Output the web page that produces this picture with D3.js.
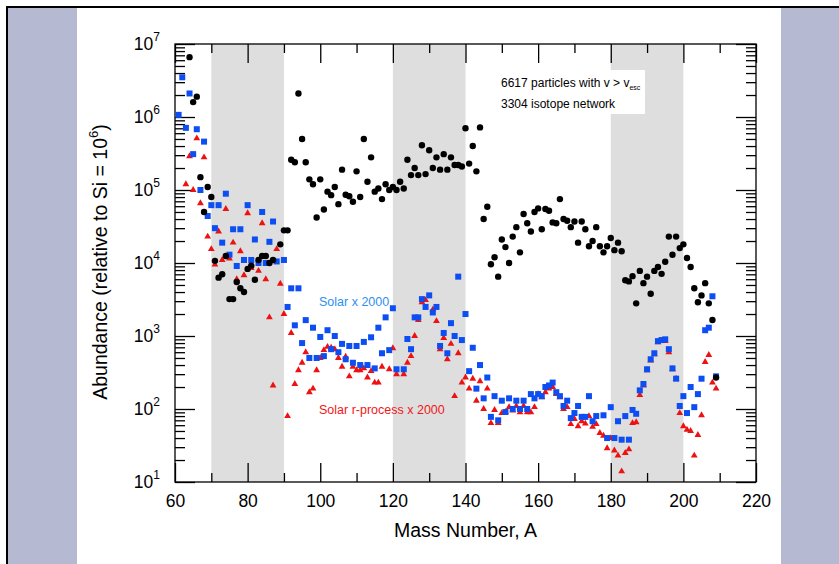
<!DOCTYPE html>
<html>
<head>
<meta charset="utf-8">
<script src="https://cdn.jsdelivr.net/npm/d3@7"></script>
<style>
  body { margin: 0; background: #fff; }
  svg text { font-family: "Liberation Sans", Arial, Helvetica, sans-serif; }
</style>
</head>
<body>
<div class="d3"></div>
<script>
// shaded mass ranges
var bands = [[70, 90], [120, 140], [180, 200]];

var xTicks = [60, 80, 100, 120, 140, 160, 180, 200, 220];
var yTicks = [1e1, 1e2, 1e3, 1e4, 1e5, 1e6, 1e7];

// model: 6617 particles, 3304 isotope network  [A, abundance]
var model = [
  [64, 6.6e6], [65, 1.6e6], [66, 1.9e6], [67, 1.5e5], [68, 5e4], [69, 1.1e5], [70, 8e4],
  [71, 1.07e4], [72, 6.3e3], [73, 7e3], [74, 1.25e4], [75, 3.2e3], [76, 3.2e3], [77, 5.5e3],
  [78, 4.5e3], [79, 4e3], [80, 8.3e3], [81, 9.2e3], [82, 5.9e3], [83, 1.1e4], [84, 1.25e4],
  [85, 1.25e4], [86, 1e4], [87, 1.1e4], [89, 1.8e4], [90, 2.8e4], [91, 2.8e4],
  [92, 2.6e5], [93, 2.4e5], [94, 2.1e6], [95, 5e5], [96, 2.4e5], [97, 1.4e5], [98, 1.2e5],
  [99, 4.2e4], [100, 1.4e5], [101, 5.4e4], [102, 9.5e4], [103, 8.5e4], [104, 1.1e5],
  [105, 6.4e4], [106, 1.9e5], [107, 8.6e4], [108, 8.2e4], [109, 6.9e4], [110, 1.8e5],
  [111, 8e4], [112, 5e5], [113, 1.3e5], [114, 2.8e5], [115, 9.5e4], [116, 1.05e5],
  [117, 7.5e4], [118, 1.2e5], [119, 1e5], [120, 1.1e5], [121, 1e5], [122, 1.3e5],
  [123, 1.05e5], [124, 2.6e5], [125, 1.6e5], [126, 2e5], [127, 1.6e5], [128, 4.1e5],
  [129, 1.65e5], [130, 3.5e5], [131, 2e5], [132, 2.8e5], [133, 1.9e5], [134, 3.1e5],
  [135, 1.9e5], [136, 2.8e5], [137, 2.2e5], [138, 2.2e5], [139, 2.1e5], [140, 7e5],
  [141, 2.3e5], [142, 4e5], [143, 1.8e5], [144, 7.2e5], [145, 4e4], [146, 5.9e4],
  [147, 9.6e3], [148, 1.2e4], [149, 6.5e3], [150, 2.1e4], [151, 1.65e4], [152, 1e4],
  [153, 2.3e4], [154, 3.1e4], [155, 1.4e4], [156, 4.7e4], [157, 3.5e4], [158, 2.7e4],
  [159, 5e4], [160, 5.6e4], [161, 2.9e4], [162, 5.5e4], [163, 5.2e4], [164, 3.6e4],
  [165, 3.5e4], [166, 7.5e4], [167, 4e4], [168, 3.8e4], [169, 3.1e4], [170, 3.7e4],
  [171, 1.9e4], [172, 3.7e4], [173, 2.9e4], [174, 1.7e4], [175, 2e4], [176, 3.1e4],
  [177, 1.7e4], [178, 1.4e4], [179, 1.7e4], [180, 2.2e4], [181, 1.5e4], [182, 1.9e4],
  [183, 1.45e4], [184, 5.8e3], [185, 5.6e3], [186, 6.6e3], [187, 2.8e3], [188, 7.8e3],
  [189, 5.3e3], [190, 6.5e3], [191, 3.8e3], [192, 7.8e3], [193, 8.8e3], [194, 7.1e3],
  [195, 1.04e4], [196, 2.3e4], [197, 1.3e4], [198, 2.3e4], [199, 1.6e4], [200, 1.8e4],
  [201, 1.17e4], [202, 8.8e3], [203, 4.5e3], [204, 2.9e3], [205, 3.6e3], [206, 5.3e3],
  [207, 2.8e3], [208, 1.66e3], [209, 2.7e2]
];

// solar x 2000
var solar = [
  [61, 1.07e6], [62, 3.5e6], [63, 7.1e5], [64, 2.1e6], [65, 3.1e5], [66, 6.8e5], [67, 1e5],
  [68, 4.6e5], [69, 4.4e4], [70, 6.2e4], [71, 3e4], [72, 6.2e4], [73, 1.9e4], [74, 8.9e4],
  [75, 1.3e4], [76, 2.9e4], [77, 9.1e3], [78, 2.9e4], [79, 1.1e4], [80, 6.2e4], [81, 1.1e4],
  [82, 2.1e4], [83, 1e4], [84, 5e4], [85, 1e4], [86, 1.95e4], [87, 3.7e4], [88, 1.05e4],
  [90, 1.1e4], [91, 2.5e3], [92, 4.5e3], [93, 1.4e3], [94, 4.5e3], [95, 8e2], [96, 1.65e3],
  [97, 5e2], [98, 1.3e3], [99, 5e2], [100, 9.7e2], [101, 5.3e2], [102, 1.2e3], [103, 6.6e2],
  [104, 1e3], [105, 6e2], [106, 7.8e2], [107, 4.8e2], [108, 7.3e2], [109, 4.3e2], [110, 7.3e2],
  [111, 4e2], [112, 8.3e2], [113, 4e2], [114, 9.6e2], [115, 3.6e2], [116, 1.3e3], [117, 5.8e2],
  [118, 1.8e3], [119, 6.4e2], [120, 2.4e3], [121, 3.5e2], [123, 3.5e2], [124, 9.1e2],
  [125, 6.6e2], [126, 1.8e3], [127, 1.8e3], [128, 3.2e3], [129, 2.5e3], [130, 3.6e3],
  [131, 2.1e3], [132, 2.5e3], [133, 7.3e2], [134, 1.1e3], [135, 5.8e2], [136, 1.5e3],
  [137, 1e3], [138, 6.5e3], [139, 8.8e2], [140, 2e3], [141, 3.3e2], [142, 6.9e2], [143, 1.9e2],
  [144, 4e2], [145, 1.4e2], [146, 2.7e2], [147, 78], [148, 1.5e2], [149, 70], [150, 1.3e2],
  [151, 91], [152, 1.4e2], [153, 1e2], [154, 1.3e2], [155, 1e2], [156, 1.3e2], [157, 1e2],
  [158, 1.6e2], [159, 1.4e2], [160, 1.6e2], [161, 1.5e2], [162, 2e2], [163, 2.1e2],
  [164, 2.3e2], [165, 1.7e2], [166, 1.5e2], [167, 1.1e2], [168, 1.3e2], [169, 75], [170, 88],
  [171, 1.1e2], [172, 78], [173, 78], [174, 1.5e2], [175, 68], [176, 80], [178, 82], [179, 40],
  [180, 1.06e2], [181, 40], [182, 68], [183, 38], [184, 80], [185, 38], [186, 97], [187, 86],
  [188, 1.8e2], [189, 2.2e2], [190, 3.5e2], [191, 4.8e2], [192, 5.8e2], [193, 8.5e2],
  [194, 8.8e2], [195, 9e2], [196, 6.6e2], [197, 3.6e2], [198, 2.6e2], [199, 1.1e2],
  [200, 1.5e2], [201, 88], [202, 2e2], [203, 1.06e2], [204, 1.6e2], [205, 2.6e2],
  [206, 1.2e3], [207, 1.3e3], [208, 3.5e3], [209, 2.8e2]
];

// solar r-process x 2000
var rproc = [
  [63, 1.2e5], [64, 2.9e5], [65, 1e5], [66, 5.1e5], [67, 6.6e4], [68, 2.8e5], [69, 2.3e4],
  [70, 1.55e4], [71, 9.5e3], [72, 2.7e4], [73, 1.1e4], [74, 5.5e4], [75, 1.15e4], [76, 1.9e4],
  [77, 6e3], [78, 1.45e4], [79, 6.8e3], [80, 4.8e4], [81, 8.5e3], [83, 7.8e3], [84, 3.5e4],
  [85, 6e3], [86, 1.8e3], [87, 2.1e2], [88, 1.55e4], [89, 5.2e3], [90, 2e3], [91, 80],
  [92, 1.1e3], [93, 2.2e2], [94, 3.4e2], [95, 4.3e2], [96, 6e2], [97, 1.7e2], [98, 1.9e2],
  [99, 3.4e2], [100, 5e2], [101, 6.4e2], [102, 7.1e2], [103, 6.9e2], [104, 6.6e2], [105, 5e2],
  [106, 3.8e2], [107, 5.2e2], [108, 2.8e2], [109, 3.8e2], [110, 3.4e2], [111, 3.4e2],
  [112, 3.6e2], [113, 2.7e2], [114, 3.3e2], [115, 2.3e2], [116, 2.3e2], [117, 3.8e2],
  [119, 3.5e2], [120, 6.8e2], [121, 3e2], [123, 3e2], [124, 4.3e2], [125, 5.3e2], [126, 1e3],
  [127, 1.65e3], [128, 2.9e3], [129, 3.1e3], [131, 2.3e3], [132, 1.6e3], [133, 6.6e2],
  [134, 9.4e2], [135, 4.8e2], [136, 7.8e2], [137, 1.5e2], [138, 5.8e2], [139, 2.3e2],
  [140, 2.7e2], [141, 1.9e2], [142, 2.6e2], [143, 1.3e2], [144, 2.4e2], [145, 1e2],
  [146, 1.9e2], [147, 64], [148, 97], [149, 64], [150, 88], [151, 91], [152, 1.06e2],
  [153, 95], [154, 1.1e2], [155, 90], [156, 1.1e2], [157, 90], [158, 90], [159, 1.06e2],
  [160, 1.6e2], [161, 1.45e2], [162, 1.7e2], [163, 1.9e2], [164, 2e2], [165, 1.6e2],
  [166, 1.45e2], [167, 1e2], [168, 1.06e2], [169, 62], [170, 73], [171, 58], [172, 68],
  [173, 63], [174, 80], [175, 57], [176, 62], [177, 47], [178, 43], [179, 29], [180, 40],
  [181, 27], [182, 23], [183, 14], [184, 25], [185, 28], [186, 64], [187, 66], [188, 1.55e2],
  [189, 2.1e2], [190, 3.4e2], [191, 4.6e2], [192, 5.6e2], [193, 8.2e2], [194, 8.5e2],
  [195, 8.5e2], [196, 6e2], [197, 3.5e2], [198, 2.6e2], [199, 88], [200, 58], [201, 52],
  [202, 50], [203, 23], [204, 44], [205, 82], [206, 4.4e2], [207, 5.5e2], [208, 2.3e2],
  [209, 1.9e2]
];

var width = 839, height = 564;
var plot = {left: 175, right: 756, top: 44, bottom: 482};

var svg = d3.select(".d3").append("svg")
    .attr("width", width)
    .attr("height", height);

// page frame: lavender side panels and black rule
svg.append("rect").attr("x", 8).attr("y", 8).attr("width", 69).attr("height", height - 8).attr("fill", "#b5bad2");
svg.append("rect").attr("x", 781).attr("y", 8).attr("width", width - 781).attr("height", height - 8).attr("fill", "#b5bad2");
svg.append("rect").attr("x", 6).attr("y", 6).attr("width", width - 6).attr("height", 2).attr("fill", "#000");
svg.append("rect").attr("x", 6).attr("y", 6).attr("width", 2).attr("height", height - 6).attr("fill", "#000");

var x = d3.scaleLinear().domain([60, 220]).range([plot.left, plot.right]);
var y = d3.scaleLog().domain([10, 1e7]).range([plot.bottom, plot.top]);

svg.selectAll(".band")
    .data(bands)
  .enter().append("rect")
    .attr("class", "band")
    .attr("x", function(d) { return x(d[0]); })
    .attr("y", plot.top)
    .attr("width", function(d) { return x(d[1]) - x(d[0]); })
    .attr("height", plot.bottom - plot.top)
    .attr("fill", "#dedede");

// axes (ticks pointing inward on all four sides)
var xMinor = d3.range(70, 220, 20);
var yMinor = [];
yTicks.slice(0, -1).forEach(function(d) {
  for (var k = 2; k <= 9; k++) yMinor.push(d * k);
});

function styleAxis(g) {
  g.select(".domain").remove();
  g.selectAll(".tick line").attr("stroke", "#000").attr("stroke-width", 1.3);
}

svg.append("g")
    .attr("transform", "translate(0," + plot.bottom + ")")
    .call(d3.axisBottom(x).tickValues(xTicks).tickSize(-19).tickPadding(13).tickFormat(d3.format("d")))
    .call(styleAxis)
    .selectAll("text").attr("font-size", 17.5).attr("fill", "#000");
svg.append("g")
    .attr("transform", "translate(0," + plot.bottom + ")")
    .call(d3.axisBottom(x).tickValues(xMinor).tickSize(-9).tickFormat(""))
    .call(styleAxis);
svg.append("g")
    .attr("transform", "translate(0," + plot.top + ")")
    .call(d3.axisTop(x).tickValues(xTicks).tickSize(-19).tickFormat(""))
    .call(styleAxis);
svg.append("g")
    .attr("transform", "translate(0," + plot.top + ")")
    .call(d3.axisTop(x).tickValues(xMinor).tickSize(-9).tickFormat(""))
    .call(styleAxis);

var yAxisG = svg.append("g")
    .attr("transform", "translate(" + plot.left + ",0)")
    .call(d3.axisLeft(y).tickValues(yTicks).tickSize(-20).tickPadding(15).tickFormat(function() { return ""; }))
    .call(styleAxis);
yAxisG.selectAll(".tick text")
    .attr("font-size", 17.5).attr("fill", "#000")
    .each(function(d) {
      var t = d3.select(this);
      t.append("tspan").text("10");
      t.append("tspan").attr("font-size", 12).attr("dy", "-0.75em").text(Math.round(Math.log10(d)));
    });
svg.append("g")
    .attr("transform", "translate(" + plot.left + ",0)")
    .call(d3.axisLeft(y).tickValues(yMinor).tickSize(-10).tickFormat(""))
    .call(styleAxis);
svg.append("g")
    .attr("transform", "translate(" + plot.right + ",0)")
    .call(d3.axisRight(y).tickValues(yTicks).tickSize(-20).tickFormat(""))
    .call(styleAxis);
svg.append("g")
    .attr("transform", "translate(" + plot.right + ",0)")
    .call(d3.axisRight(y).tickValues(yMinor).tickSize(-10).tickFormat(""))
    .call(styleAxis);

svg.append("rect")
    .attr("x", plot.left).attr("y", plot.top)
    .attr("width", plot.right - plot.left).attr("height", plot.bottom - plot.top)
    .attr("fill", "none").attr("stroke", "#000").attr("stroke-width", 1.3);

// data
svg.append("g").selectAll("path")
    .data(rproc)
  .enter().append("path")
    .attr("d", d3.symbol().type(d3.symbolTriangle).size(20))
    .attr("transform", function(d) { return "translate(" + x(d[0]) + "," + y(d[1]) + ")"; })
    .attr("fill", "#ee1111");

svg.append("g").selectAll("rect")
    .data(solar)
  .enter().append("rect")
    .attr("x", function(d) { return x(d[0]) - 3; })
    .attr("y", function(d) { return y(d[1]) - 3; })
    .attr("width", 6).attr("height", 6)
    .attr("fill", "#0d4ef2");

svg.append("g").selectAll("circle")
    .data(model)
  .enter().append("circle")
    .attr("cx", function(d) { return x(d[0]); })
    .attr("cy", function(d) { return y(d[1]); })
    .attr("r", 3.2)
    .attr("fill", "#000");

// labels (opaque background behind the run note)
svg.append("rect").attr("x", 497).attr("y", 70).attr("width", 148).attr("height", 44).attr("fill", "#fff");
var note = svg.append("g").attr("font-size", 12).attr("fill", "#000");
var t1 = note.append("text").attr("x", 501).attr("y", 87);
t1.append("tspan").text("6617 particles with v > v");
t1.append("tspan").attr("font-size", 7).attr("dy", 3).text("esc");
note.append("text").attr("x", 501).attr("y", 108).text("3304 isotope network");

svg.append("text").attr("x", 319).attr("y", 306).attr("font-size", 12.5)
    .attr("fill", "#2f8ff0").text("Solar x 2000");
svg.append("text").attr("x", 319).attr("y", 414).attr("font-size", 12.5)
    .attr("fill", "#f01818").text("Solar r-process x 2000");

svg.append("text")
    .attr("x", (plot.left + plot.right) / 2).attr("y", 537)
    .attr("text-anchor", "middle").attr("font-size", 19.5)
    .text("Mass Number, A");

var yt = svg.append("text")
    .attr("transform", "translate(107,262) rotate(-90)")
    .attr("text-anchor", "middle").attr("font-size", 19.5);
yt.append("tspan").text("Abundance (relative to Si = 10");
yt.append("tspan").attr("font-size", 13).attr("dy", "-0.7em").text("6");
yt.append("tspan").attr("dy", "0.45em").text(")");
</script>
</body>
</html>
